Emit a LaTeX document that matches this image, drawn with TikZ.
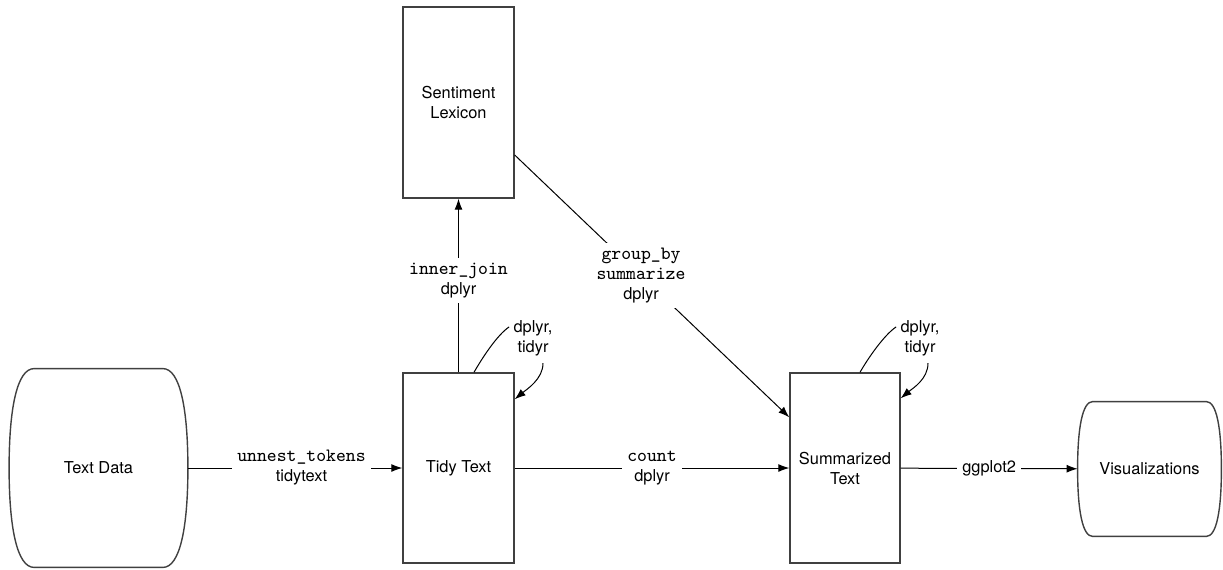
\documentclass[tikz,border=0pt]{standalone}
\usepackage{fontspec}
\setmainfont{TeX Gyre Heros}
\usetikzlibrary{positioning, calc, arrows.meta}
\newcommand{\code}[1]{{\ttfamily\fontsize{9.4}{10}\selectfont #1}}
\newcommand{\lblfont}{\fontsize{8.2}{10}\selectfont}
\tikzset{
  proc/.style={draw=black!75, line width=0.7pt, align=center, font=\lblfont, inner sep=0pt},
  store/.style={align=center, font=\lblfont, inner sep=0pt},
  boxline/.style={draw=black!75, line width=0.7pt},
  flow/.style={-{Latex[length=5.5pt,width=4pt]}, line width=0.5pt},
  oplabel/.style={fill=white, align=center, font=\lblfont, inner sep=2.5pt},
  looplabel/.style={align=center, font=\lblfont, inner sep=2pt}
}

\begin{document}
\begin{tikzpicture}[x=0.5pt,y=-0.5pt]
      \useasboundingbox (0,0) rectangle (1223,569);

      \node[store, minimum width=89pt, minimum height=99pt] (data) at (98.5,468) {Text Data};
      \node[proc, minimum width=55.5pt, minimum height=95pt] (tidy) at (458.5,468) {Tidy Text};
      \node[proc, minimum width=55.5pt, minimum height=95.5pt] (lexicon) at (458.5,102.5) {Sentiment\\Lexicon};
      \node[proc, minimum width=55pt, minimum height=95pt] (summ) at (845,468) {Summarized\\Text};
      \node[store, minimum width=71.5pt, minimum height=67pt] (vis) at (1149.5,469) {Visualizations};

      \node[looplabel] (tidyops) at (533,338) {dplyr,\\tidyr};
      \node[looplabel] (summops) at (920,338) {dplyr,\\tidyr};

      % stored data outlines
      \draw[boxline] ($(data.north west)+(25,0)$) -- ($(data.north east)+(-25,0)$)
        .. controls ($(data.north east)+(-8,0)$) and ($(data.east)+(0,-60)$) .. (data.east)
        .. controls ($(data.east)+(0,60)$) and ($(data.south east)+(-8,0)$) .. ($(data.south east)+(-25,0)$)
        -- ($(data.south west)+(25,0)$)
        .. controls ($(data.south west)+(8,0)$) and ($(data.west)+(0,60)$) .. (data.west)
        .. controls ($(data.west)+(0,-60)$) and ($(data.north west)+(8,0)$) .. cycle;
      \draw[boxline] ($(vis.north west)+(15,0)$) -- ($(vis.north east)+(-15,0)$)
        .. controls ($(vis.north east)+(-5,0)$) and ($(vis.east)+(0,-42)$) .. (vis.east)
        .. controls ($(vis.east)+(0,42)$) and ($(vis.south east)+(-5,0)$) .. ($(vis.south east)+(-15,0)$)
        -- ($(vis.south west)+(15,0)$)
        .. controls ($(vis.south west)+(5,0)$) and ($(vis.west)+(0,42)$) .. (vis.west)
        .. controls ($(vis.west)+(0,-42)$) and ($(vis.north west)+(5,0)$) .. cycle;

      \draw[flow] (data) -- node[oplabel, pos=0.53] {\code{unnest\_tokens}\\tidytext} (tidy);
      \draw[flow] (tidy) -- node[oplabel] {\code{count}\\dplyr} (summ);
      \draw[flow] (summ) -- node[oplabel] {ggplot2} (vis);
      \draw[flow] (tidy) -- node[oplabel, pos=0.53] {\code{inner\_join}\\dplyr} (lexicon);
      \draw[flow] ($(lexicon.east)+(0,52.5)$) -- node[oplabel, pos=0.46] {\code{group\_by}\\\code{summarize}\\dplyr} ($(summ.north west)+(0,45)$);

      % loops back onto the same table
      \draw[line width=0.5pt] ($(tidy.north)+(15.5,0)$) .. controls +(8,-14) and +(-12,8) .. (tidyops.155);
      \draw[flow] ($(tidyops.south)+(10,3)$) .. controls +(0,16) and +(12,-10) .. ($(tidy.north east)+(0,27)$);
      \draw[line width=0.5pt] ($(summ.north)+(15,0)$) .. controls +(8,-14) and +(-12,8) .. (summops.155);
      \draw[flow] ($(summops.south)+(8,3)$) .. controls +(0,16) and +(12,-10) .. ($(summ.north east)+(0,26)$);
    \end{tikzpicture}
\end{document}
